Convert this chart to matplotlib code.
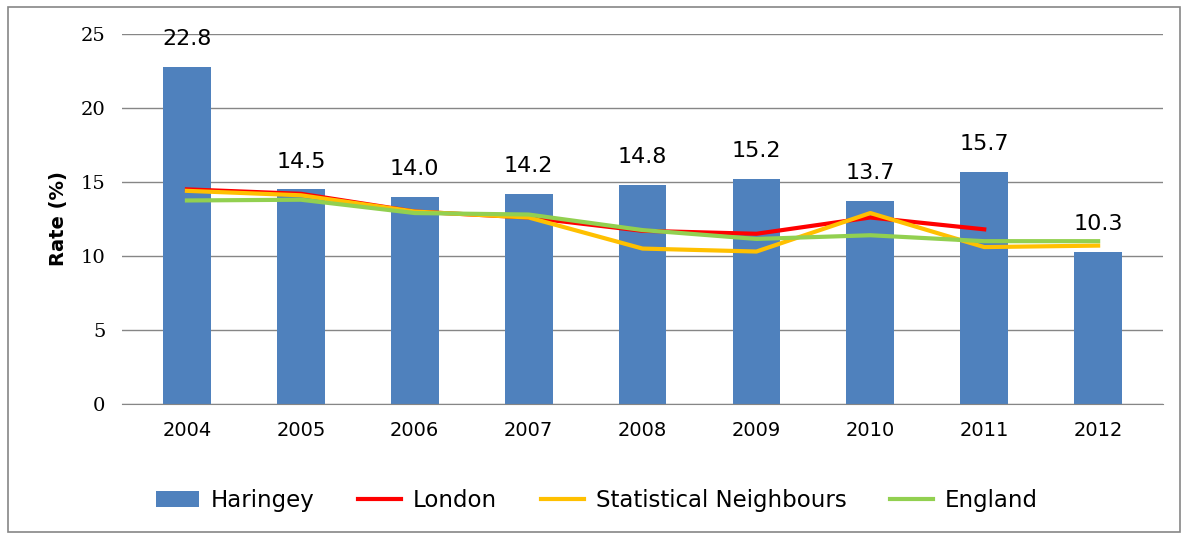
import matplotlib.pyplot as plt
import numpy as np

years = ['2004', '2005', '2006', '2007', '2008', '2009', '2010', '2011', '2012']
haringey = [22.8, 14.5, 14.0, 14.2, 14.8, 15.2, 13.7, 15.7, 10.3]
london = [14.5, 14.2, 13.0, 12.6, 11.7, 11.5, 12.6, 11.8, np.nan]
stat_neigh = [14.4, 14.1, 13.0, 12.6, 10.5, 10.3, 12.9, 10.6, 10.7]
england = [13.75, 13.8, 12.9, 12.8, 11.75, 11.15, 11.4, 11.0, 11.0]

plt.rcParams['font.family'] = ['DejaVu Sans']

fig = plt.figure(figsize=(11.88, 5.39), dpi=100)
ax = fig.add_axes([0.1027, 0.2505, 0.8763, 0.6865])

x = np.arange(len(years))
bars = ax.bar(x, haringey, width=0.42, color='#4F81BD', label='Haringey', zorder=2)
ax.plot(x, london, color='#FF0000', lw=3, label='London', zorder=3)
ax.plot(x, stat_neigh, color='#FFC000', lw=3, label='Statistical Neighbours', zorder=3)
ax.plot(x, england, color='#92D050', lw=3, label='England', zorder=4)

for xi, v in zip(x, haringey):
    ax.text(xi, v + 1.2, '%.1f' % v, ha='center', va='bottom', fontsize=16)

ax.set_xlim(-0.57, len(years) - 0.43)
ax.set_ylim(0, 25)
ax.set_yticks([0, 5, 10, 15, 20, 25])
ax.set_xticks(x)
ax.set_xticklabels(years, fontsize=14)
ax.set_yticklabels(['0', '5', '10', '15', '20', '25'], fontsize=14, family='DejaVu Serif')
ax.tick_params(axis='y', length=0, pad=12)
ax.tick_params(axis='x', length=0, pad=12)
ax.yaxis.grid(True, color='#868686', lw=1, zorder=0)
ax.set_axisbelow(True)
for s in ['top', 'right', 'left']:
    ax.spines[s].set_visible(False)
ax.spines['bottom'].set_color('#868686')
ax.set_ylabel('Rate (%)', fontsize=14, fontweight='bold', labelpad=9)

h, l = ax.get_legend_handles_labels()
order = [3, 0, 1, 2]
ax.legend([h[i] for i in order], [l[i] for i in order], loc='center',
          bbox_to_anchor=(0.456, -0.26), ncol=4, frameon=False,
          fontsize=16.5, handlelength=1.9, columnspacing=1.9, handletextpad=0.5)

border = plt.Rectangle((0.007, 0.013), 0.986, 0.974, transform=fig.transFigure,
                       fill=False, edgecolor='#868686', lw=1.2)
fig.patches.append(border)

fig.savefig('out.png', dpi=100)
